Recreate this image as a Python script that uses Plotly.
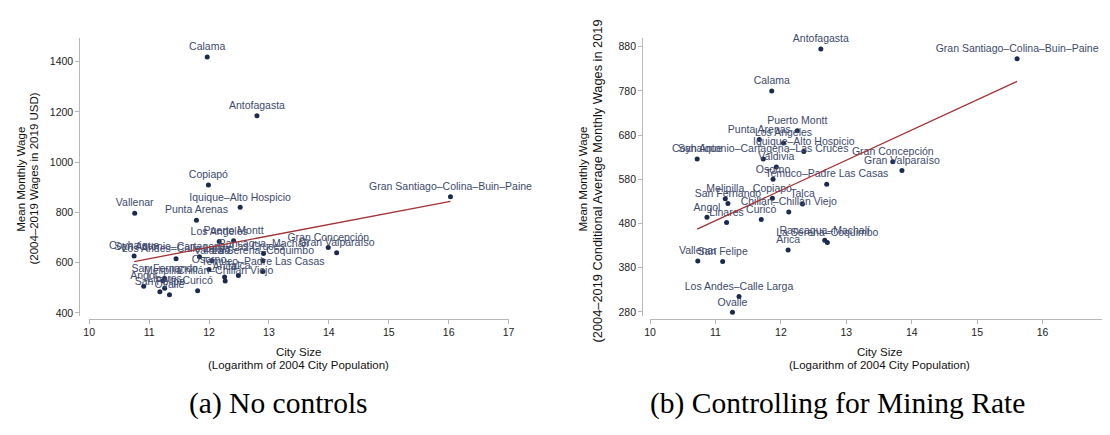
import numpy as np
import plotly.graph_objects as go

# ---------------- data ----------------
cities = ["Calama", "Antofagasta", "Copiapó", "Iquique–Alto Hospicio", "Vallenar",
          "Punta Arenas", "Gran Santiago–Colina–Buin–Paine", "Los Angeles", "Puerto Montt",
          "Gran Concepción", "Gran Valparaíso", "Coyhaique", "San Antonio–Cartagena–Las Cruces",
          "Los Andes–Calle Larga", "Valdivia", "Rancagua–Machalí", "La Serena–Coquimbo",
          "Osorno", "Temuco–Padre Las Casas", "Talca", "Arica", "Chillán–Chillán Viejo",
          "San Fernando", "Melipilla", "Angol", "Linares", "San Felipe", "Curicó", "Ovalle"]

# x positions
log_pop_a = [11.97, 12.80, 11.99, 12.52, 10.76,
             11.79, 16.03, 12.17, 12.41,
             13.99, 14.13, 10.75, 11.84,
             11.45, 12.05, 12.91, 12.90,
             12.00, 12.90, 12.49, 12.26, 12.27,
             11.26, 11.23, 10.91, 11.26, 11.18, 11.81, 11.34]

# x positions
log_pop_b = [11.86, 12.61, 11.87, 12.35, 10.73,
             11.67, 15.61, 12.04, 12.25,
             13.71, 13.85, 10.72, 11.73,
             11.36, 11.93, 12.67, 12.71,
             11.88, 12.70, 12.33, 12.11, 12.12,
             11.19, 11.15, 10.87, 11.17, 11.11, 11.70, 11.26]

wage_raw = [1418, 1185, 909, 820, 797,
            769, 862, 684, 687,
            660, 639, 626, 623,
            615, 607, 636, 607,
            573, 565, 549, 543, 527,
            537, 528, 506, 498, 484, 488, 472]

wage_cond = [780, 875, 537, 643, 395,
             670, 853, 662, 690,
             620, 600, 626, 626,
             315, 608, 442, 437,
             580, 569, 524, 420, 506,
             525, 536, 494, 482, 394, 489, 279]

x_ticks = [10, 11, 12, 13, 14, 15, 16, 17]
y_ticks_a = [400, 600, 800, 1000, 1200, 1400]
y_ticks_b = [280, 380, 480, 580, 680, 780, 880]

# ---------------- styling ----------------
W, H = 1110, 435
DOT = "#1b2a4e"
LBL = "#3d4a6d"
FIT = "#a33336"
AX = "#b8b8b8"
FONT = "Liberation Sans, Arial, sans-serif"
SERIF = "Liberation Serif, Times New Roman, serif"

def px(x):
    return x / W

def py(y):
    return 1 - y / H

fig = go.Figure()

def add_panel(xa, ya, xvals, yvals):
    fig.add_trace(go.Scatter(
        x=xvals, y=yvals, mode="markers+text", text=cities,
        textposition="top center",
        textfont=dict(family=FONT, size=10.5, color=LBL),
        marker=dict(color=DOT, size=5),
        xaxis=xa, yaxis=ya, cliponaxis=False, showlegend=False,
        hoverinfo="skip"))
    b, a = np.polyfit(np.array(xvals), np.array(yvals), 1)
    xs = np.array([min(xvals), max(xvals)])
    fig.add_trace(go.Scatter(
        x=xs, y=a + b * xs, mode="lines", line=dict(color=FIT, width=1.3),
        xaxis=xa, yaxis=ya, showlegend=False, hoverinfo="skip"))

add_panel("x", "y", log_pop_a, wage_raw)
add_panel("x2", "y2", log_pop_b, wage_cond)

common_x = dict(range=[10, 17], tickvals=x_ticks, showline=True, linecolor=AX,
                linewidth=1, ticks="outside", ticklen=4, tickcolor=AX,
                showgrid=False, zeroline=False,
                tickfont=dict(family=FONT, size=10.5, color="#222"))
common_y = dict(showline=True, linecolor=AX, linewidth=1, ticks="outside",
                ticklen=4, tickcolor=AX, showgrid=False, zeroline=False,
                tickfont=dict(family=FONT, size=10.5, color="#222"))

# pixel geometry
XA0, XA1 = 76, 500       # left x axis: 10 .. 17
XB0, XB1 = 643, 1106     # right x axis: 10 .. 17
AX_Y = 313               # x axis line
TOP, BOT = 30, 310       # y axis line extent
# left y: 1400 at 54, 400 at 307
sa = (307 - 54) / 1000.0
ya_range = [400 - (BOT - 307) / sa, 1400 + (54 - TOP) / sa]
# right y: 880 at 39, 280 at 306
sb = (306 - 39) / 600.0
yb_range = [280 - (BOT - 306) / sb, 880 + (39 - TOP) / sb]

fig.update_layout(
    xaxis=dict(domain=[px(XA0), px(XA1)], anchor="free", position=py(AX_Y), **common_x),
    yaxis=dict(domain=[py(BOT), py(TOP)], anchor="free", position=px(66),
               range=ya_range, tickvals=y_ticks_a, **common_y),
    xaxis2=dict(domain=[px(XB0), px(XB1)], anchor="free", position=py(AX_Y), **common_x),
    yaxis2=dict(domain=[py(BOT), py(TOP)], anchor="free", position=px(635),
                range=yb_range, tickvals=y_ticks_b, **common_y),
)

ann = []
def t(x, y, s, size=11.5, angle=0, family=FONT, color="#111"):
    ann.append(dict(x=px(x), y=py(y), xref="paper", yref="paper", text=s,
                    showarrow=False, textangle=angle, xanchor="center", yanchor="middle",
                    font=dict(family=family, size=size, color=color)))

t((XA0 + XA1) / 2, 346, "City Size")
t((XA0 + XA1) / 2, 359, "(Logarithm of 2004 City Population)")
t(7, 172, "Mean Monthly Wage", angle=-90)
t(20, 172, "(2004–2019 Wages in 2019 USD)", angle=-90)
t(267, 398, "(a) No controls", size=29.5, family=SERIF, color="#000")

t((XB0 + XB1) / 2, 346, "City Size")
t((XB0 + XB1) / 2, 359, "(Logarithm of 2004 City Population)")
t(575, 172, "Mean Monthly Wage", angle=-90)
t(590, 174, "(2004–2019 Conditional Average Monthly Wages in 2019", size=12.8, angle=-90)
t(832, 398, "(b) Controlling for Mining Rate", size=29.5, family=SERIF, color="#000")

fig.update_layout(
    width=W, height=H, margin=dict(l=0, r=0, t=0, b=0),
    paper_bgcolor="white", plot_bgcolor="white", annotations=ann,
    font=dict(family=FONT),
)

fig.write_html("out.html")
